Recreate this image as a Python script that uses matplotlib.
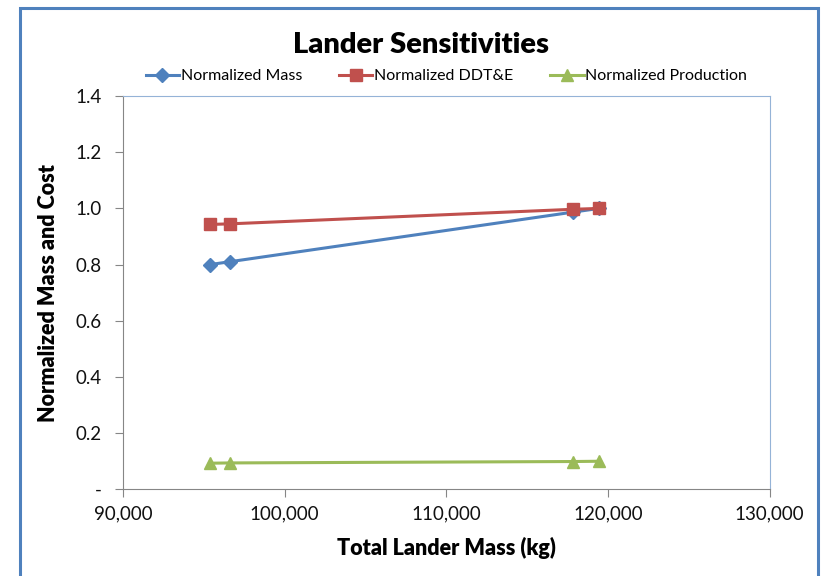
import matplotlib.pyplot as plt
from matplotlib.patches import Rectangle
from matplotlib.ticker import FuncFormatter

# lander total mass (kg) for the four cases
lander_mass = [95400, 96600, 117850, 119450]
norm_mass = [0.80, 0.81, 0.987, 1.0]
norm_ddte = [0.943, 0.945, 0.997, 1.0]
norm_prod = [0.092, 0.093, 0.098, 0.099]

x_ticks = [90000, 100000, 110000, 120000, 130000]
y_ticks = [0, 0.2, 0.4, 0.6, 0.8, 1.0, 1.2, 1.4]

plt.rcParams['font.family'] = ['Lato', 'DejaVu Sans']

fig = plt.figure(figsize=(8.25, 5.76), dpi=100)
ax = fig.add_axes([0.149, 0.151, 0.784, 0.682])

ax.plot(lander_mass, norm_mass, color='#4f81bd', lw=2.2, marker='D', ms=7, label='Normalized Mass')
ax.plot(lander_mass, norm_ddte, color='#c0504d', lw=2.2, marker='s', ms=9, label='Normalized DDT&E')
ax.plot(lander_mass, norm_prod, color='#9bbb59', lw=2.2, marker='^', ms=9, label='Normalized Production')

ax.set_xlim(90000, 130000)
ax.set_ylim(0, 1.4)
ax.set_xticks(x_ticks)
ax.set_yticks(y_ticks)
ax.xaxis.set_major_formatter(FuncFormatter(lambda v, p: f'{int(v):,}'))
ax.yaxis.set_major_formatter(FuncFormatter(lambda v, p: '-' if v == 0 else f'{v:.1f}'))
ax.tick_params(labelsize=13.5, length=6, color='#868686', colors='#111111')
ax.tick_params(axis='y', pad=9)
ax.tick_params(axis='x', pad=6)

for s in ['left', 'bottom']:
    ax.spines[s].set_color('#868686')
for s in ['top', 'right']:
    ax.spines[s].set_color('#95b3d7')

ax.set_xlabel('Total Lander Mass (kg)', fontsize=15.5, fontweight='heavy', labelpad=10)
ax.set_ylabel('Normalized Mass and Cost', fontsize=15.5, fontweight='heavy', labelpad=12)

fig.text(0.51, 0.922, 'Lander Sensitivities', ha='center', va='center', fontsize=21, fontweight='heavy')
fig.legend(loc='center', bbox_to_anchor=(0.541, 0.868), ncol=3, frameon=False, fontsize=11.5,
           handlelength=2.1, columnspacing=2.3, handletextpad=0.1)

fig.patches.append(Rectangle((20 / 825, -0.05), 798 / 825, 1.05 - 8 / 576, transform=fig.transFigure,
                             fill=False, edgecolor='#4f81bd', lw=2.2))

fig.savefig('out.png', dpi=100)
